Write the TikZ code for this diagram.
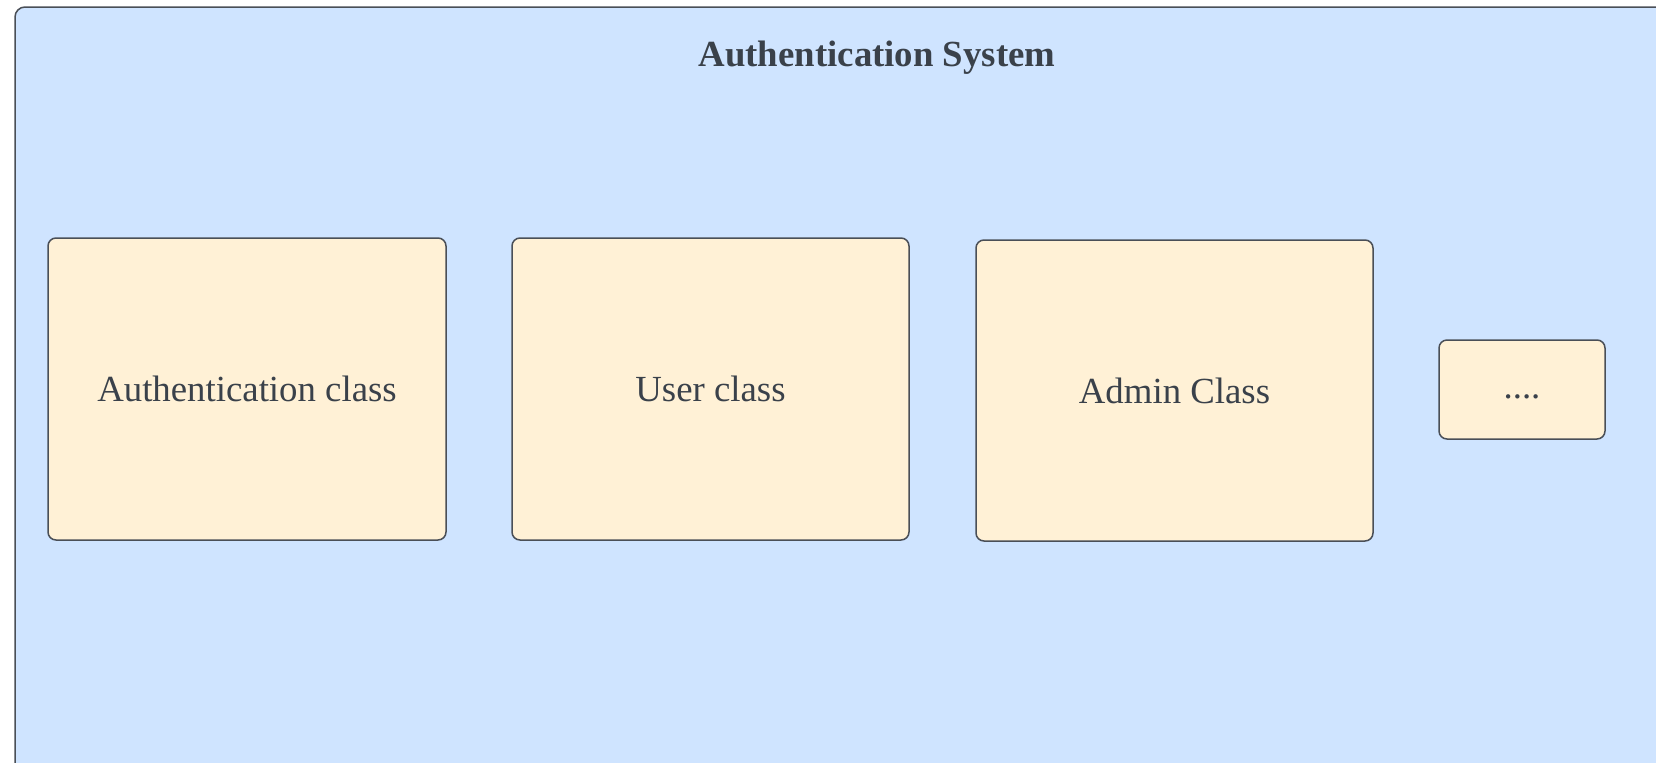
\documentclass[tikz,border=0pt]{standalone}
\usepackage{fontspec}
\setmainfont{Liberation Serif}
\begin{document}
\begin{tikzpicture}[x=0.5pt,y=-0.5pt,
  container/.style={draw=edgegray,fill=sysblue,line width=0.75pt,rounded corners=5pt},
  classbox/.style={draw=edgegray,fill=classcream,line width=0.75pt,rounded corners=4pt,
    text=textgray,font=\fontsize{18.4}{21}\selectfont},
  titletext/.style={text=textgray,font=\bfseries\fontsize{18.4}{21}\selectfont}]
\definecolor{sysblue}{HTML}{CFE4FF}
\definecolor{classcream}{HTML}{FFF1D6}
\definecolor{edgegray}{HTML}{4A4F57}
\definecolor{textgray}{HTML}{3A414A}
\useasboundingbox (0,0) rectangle (1656,762);
\clip (0,0) rectangle (1656,762);
\draw[container] (15,7) rectangle (1700,800);
\node[titletext] (title) at (877,58) {Authentication System};
\draw[classbox] (48,238) rectangle (446,540) node[midway] (auth) {Authentication class};
\draw[classbox] (512,238) rectangle (909,540) node[midway] (user) {User class};
\draw[classbox] (976,240) rectangle (1373,541) node[midway] (admin) {Admin Class};
\draw[classbox] (1439,340) rectangle (1605,439) node[midway,yshift=-3.5pt] (more) {....};
\end{tikzpicture}
\end{document}
